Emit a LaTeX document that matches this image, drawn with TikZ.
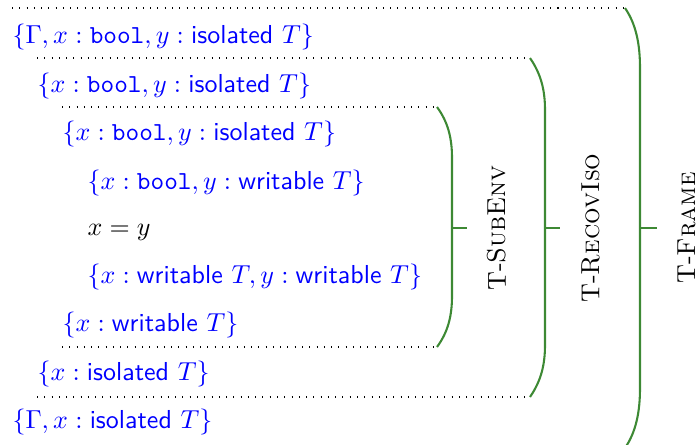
\documentclass[tikz,border=0pt]{standalone}
\usepackage{amsmath}
\usepackage{xcolor}
\usepackage{tikz}
\usetikzlibrary{positioning}

\definecolor{rulegreen}{RGB}{61,137,52}
\newcommand{\tbool}{\texttt{bool}}
\newcommand{\iso}{\textsf{isolated}}
\newcommand{\wrt}{\textsf{writable}}

\begin{document}
\begin{tikzpicture}[
			x=0.385pt, y=-0.385pt,
			env/.style={anchor=west, inner sep=0pt, text height=7.5pt, text depth=2.5pt, text=blue},
			stmt/.style={env, text=black},
			sep/.style={dash pattern=on 0.4pt off 2.4pt, thin},
			brack/.style={draw=rulegreen, thick},
			tick/.style={draw=rulegreen, thin},
			rule/.style={anchor=north, rotate=90, inner sep=0pt}
			]
			\useasboundingbox (0,0) rectangle (697,444);
			% typing contexts, outermost first
			\node[env] (g1) at (12,37) {$\{\Gamma, x : \tbool, y : \iso~T\}$};
			\node[env] (r1) at (37,86) {$\{x : \tbool, y : \iso~T\}$};
			\node[env] (s1) at (62,134) {$\{x : \tbool, y : \iso~T\}$};
			\node[env] (b1) at (87,183) {$\{x : \tbool, y : \wrt~T\}$};
			\node[stmt] (asg) at (87,229) {$x = y$};
			\node[env] (b2) at (87,277) {$\{x : \wrt~T, y : \wrt~T\}$};
			\node[env] (s2) at (62,325) {$\{x : \wrt~T\}$};
			\node[env] (r2) at (37,374) {$\{x : \iso~T\}$};
			\node[env] (g2) at (12,422) {$\{\Gamma, x : \iso~T\}$};
			% bracket ends
			\coordinate (frametop) at (625,8);
			\coordinate (framebot) at (625,448);
			\coordinate (recovtop) at (530,58);
			\coordinate (recovbot) at (530,397);
			\coordinate (subtop) at (437,107);
			\coordinate (subbot) at (437,347);
			% dotted separators
			\draw[sep] (g1.west |- frametop) -- (frametop);
			\draw[sep] (r1.west |- recovtop) -- (recovtop);
			\draw[sep] (s1.west |- subtop) -- (subtop);
			\draw[sep] (s2.west |- subbot) -- (subbot);
			\draw[sep] (r2.west |- recovbot) -- (recovbot);
			% rule brackets
			\draw[brack] (subtop) .. controls (448,122) and (452,138) .. (452,158) -- (452,296) .. controls (452,316) and (448,332) .. (subbot);
			\draw[brack] (recovtop) .. controls (541,74) and (545,90) .. (545,110) -- (545,345) .. controls (545,365) and (541,381) .. (recovbot);
			\draw[brack] (frametop) .. controls (636,24) and (640,44) .. (640,68) -- (640,388) .. controls (640,412) and (636,432) .. (framebot);
			% rule names
			\coordinate (submid) at (452,228);
			\coordinate (recovmid) at (545,228);
			\coordinate (framemid) at (640,228);
			\coordinate (subend) at (467,228);
			\coordinate (recovend) at (560,228);
			\coordinate (frameend) at (657,228);
			\node[rule] (tsub) at (487,228) {T-\textsc{SubEnv}};
			\node[rule] (trecov) at (581,228) {T-\textsc{RecovIso}};
			\node[rule] (tframe) at (677,228) {T-\textsc{Frame}};
			\draw[tick] (submid) -- (subend);
			\draw[tick] (recovmid) -- (recovend);
			\draw[tick] (framemid) -- (frameend);
		\end{tikzpicture}
\end{document}
